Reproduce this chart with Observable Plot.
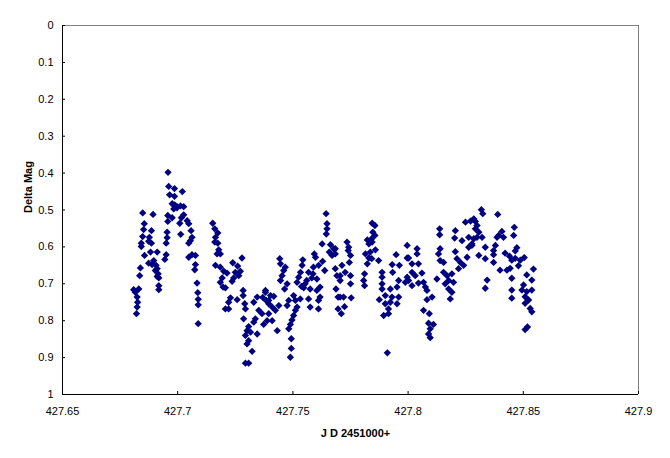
<!DOCTYPE html>
<html><head><meta charset="utf-8">
<script src="https://cdn.jsdelivr.net/npm/d3@7"></script>
<script src="https://cdn.jsdelivr.net/npm/@observablehq/plot@0.6"></script>
<style>
html,body{margin:0;padding:0;background:#fff;}
#chart svg{display:block;}
</style></head><body><div id="chart"></div>
<script>
// Julian date (JD 2451000+) of each observation
const jd = [
  // rise to first maximum
  427.6809, 427.6831, 427.6816, 427.6824, 427.6826, 427.6824, 427.6821, 427.6838, 427.6835, 427.6842,
  427.6842, 427.6848, 427.6848, 427.6852, 427.6855, 427.6856, 427.6874, 427.6874, 427.6877, 427.6882,
  427.6886, 427.6886, 427.6889, 427.6893, 427.6896, 427.6903, 427.6906, 427.6911, 427.6911, 427.6911,
  427.6915, 427.6918, 427.6918, 427.6918, 427.6944, 427.6950, 427.6950, 427.6954, 427.6954, 427.6957,
  427.6957, 427.6958, 427.6961, 427.6965, 427.6976, 427.6976, 427.6983, 427.6986, 427.6986, 427.6987,
  427.6997, 427.6997, 427.7009, 427.7012, 427.7013, 427.7016, 427.7020, 427.7026, 427.7026, 427.7041,
  427.7048, 427.7048, 427.7048, 427.7055, 427.7058, 427.7062, 427.7062, 427.7074, 427.7077, 427.7077,
  427.7084, 427.7087, 427.7089, 427.7089, 427.7089,
  // second hump
  427.7152, 427.7161, 427.7174, 427.7164, 427.7161, 427.7174, 427.7178, 427.7171, 427.7185, 427.7164,
  427.7185, 427.7200, 427.7214, 427.7193, 427.7185, 427.7197, 427.7207, 427.7239, 427.7260, 427.7279,
  427.7250, 427.7272, 427.7265, 427.7243, 427.7236, 427.7284, 427.7284, 427.7258, 427.7229, 427.7221,
  427.7207, 427.7221, 427.7291, 427.7294, 427.7286,
  // minimum
  427.7381, 427.7345, 427.7330, 427.7384, 427.7395, 427.7352, 427.7366, 427.7337, 427.7330, 427.7308,
  427.7301, 427.7316, 427.7345, 427.7294, 427.7308, 427.7301, 427.7373, 427.7323, 427.7308, 427.7294,
  427.7381, 427.7395, 427.7410, 427.7424, 427.7439, 427.7395, 427.7410, 427.7432, 427.7388, 427.7417,
  427.7369, 427.7403,
  // middle section
  427.7443, 427.7446, 427.7467, 427.7460, 427.7453, 427.7446, 427.7475, 427.7464, 427.7503, 427.7511,
  427.7482, 427.7475, 427.7518, 427.7511, 427.7503, 427.7496, 427.7489, 427.7482, 427.7493, 427.7493,
  427.7489, 427.7543, 427.7540, 427.7533, 427.7525, 427.7518, 427.7537, 427.7547, 427.7532, 427.7568,
  427.7575, 427.7611, 427.7618, 427.7611, 427.7593, 427.7598, 427.7629, 427.7612, 427.7638, 427.7589,
  427.7587, 427.7568, 427.7582, 427.7604, 427.7560, 427.7553, 427.7575, 427.7604, 427.7618, 427.7644,
  427.7648, 427.7648, 427.7645, 427.7627, 427.7663, 427.7677, 427.7670, 427.7658, 427.7684, 427.7691,
  427.7687, 427.7696, 427.7696,
  427.7684, 427.7684, 427.7713, 427.7705, 427.7727, 427.7750, 427.7705, 427.7750, 427.7705, 427.7720,
  427.7753, 427.7724, 427.7710, 427.7735, 427.7742, 427.7740, 427.7750, 427.7745, 427.7844, 427.7856,
  427.7847, 427.7856, 427.7842, 427.7823, 427.7830, 427.7844, 427.7858, 427.7836, 427.7815, 427.7830,
  427.7823, 427.7842, 427.7872, 427.7811, 427.7807, 427.7811,
  427.7996, 427.7948, 427.7996, 427.7931, 427.7962, 427.7933, 427.7887, 427.7887, 427.7887, 427.7887,
  427.7923, 427.7959, 427.7952, 427.7988, 427.7996, 427.7875, 427.7901, 427.7930, 427.7959, 427.7901,
  427.7923, 427.7952, 427.7915, 427.7894, 427.7915, 427.7910,
  // late section
  427.8249, 427.8271, 427.8285, 427.8137, 427.8137, 427.8205, 427.8202, 427.8234, 427.8263, 427.8277,
  427.8263, 427.8039, 427.8039, 427.8002, 427.8017, 427.8045, 427.8205, 427.8139, 427.8132, 427.8139,
  427.8154, 427.8212, 427.8227, 427.8241, 427.8219, 427.8256, 427.8017, 427.8031, 427.8060, 427.8002,
  427.8017, 427.8045, 427.8067, 427.8075, 427.8125, 427.8154, 427.8169, 427.8176, 427.8161, 427.8190,
  427.8197, 427.8176, 427.8190, 427.8183, 427.8082, 427.8104, 427.8082, 427.8067, 427.8092, 427.8089,
  427.8110, 427.8096, 427.8089, 427.8096,
  427.8318, 427.8324, 427.8389, 427.8292, 427.8299, 427.8292, 427.8307, 427.8299, 427.8285, 427.8321,
  427.8277, 427.8407, 427.8393, 427.8414, 427.8386, 427.8461, 427.8458, 427.8335, 427.8379, 427.8371,
  427.8371, 427.8307, 427.8335, 427.8371, 427.8472, 427.8465, 427.8421, 427.8440, 427.8450, 427.8465,
  427.8487, 427.8504, 427.8479, 427.8443, 427.8429, 427.8399, 427.8450, 427.8544, 427.8343, 427.8335,
  427.8450, 427.8450, 427.8515, 427.8537, 427.8501, 427.8494, 427.8515, 427.8537, 427.8508, 427.8523,
  427.8508, 427.8530, 427.8537, 427.8518, 427.8508
];

// Delta magnitude of each observation
const mag = [
  0.716, 0.714, 0.723, 0.736, 0.750, 0.763, 0.781, 0.657, 0.678, 0.590,
  0.599, 0.572, 0.508, 0.553, 0.537, 0.623, 0.585, 0.644, 0.574, 0.614,
  0.556, 0.590, 0.648, 0.512, 0.637, 0.664, 0.650, 0.614, 0.659, 0.680,
  0.673, 0.684, 0.705, 0.716, 0.634, 0.621, 0.590, 0.560, 0.575, 0.515,
  0.531, 0.398, 0.436, 0.459, 0.483, 0.521, 0.497, 0.442, 0.463, 0.486,
  0.491, 0.494, 0.536, 0.489, 0.566, 0.521, 0.450, 0.491, 0.513, 0.529,
  0.537, 0.590, 0.628, 0.583, 0.556, 0.574, 0.621, 0.662, 0.623, 0.648,
  0.698, 0.724, 0.742, 0.757, 0.808,
  0.536, 0.551, 0.562, 0.574, 0.587, 0.590, 0.608, 0.619, 0.619, 0.650,
  0.655, 0.666, 0.671, 0.684, 0.696, 0.709, 0.711, 0.643, 0.652, 0.630,
  0.669, 0.666, 0.678, 0.684, 0.693, 0.718, 0.732, 0.743, 0.738, 0.750,
  0.768, 0.768, 0.754, 0.768, 0.795,
  0.723, 0.736, 0.750, 0.745, 0.754, 0.772, 0.781, 0.795, 0.804, 0.816,
  0.827, 0.831, 0.836, 0.840, 0.854, 0.863, 0.810, 0.883, 0.915, 0.915,
  0.718, 0.745, 0.763, 0.772, 0.759, 0.781, 0.800, 0.827, 0.800, 0.734,
  0.737, 0.732,
  0.632, 0.646, 0.655, 0.664, 0.678, 0.691, 0.700, 0.714, 0.732, 0.745,
  0.745, 0.759, 0.763, 0.772, 0.786, 0.798, 0.810, 0.822, 0.849, 0.875,
  0.899, 0.635, 0.650, 0.669, 0.682, 0.696, 0.707, 0.711, 0.741, 0.741,
  0.763, 0.768, 0.736, 0.745, 0.619, 0.628, 0.639, 0.650, 0.664, 0.655,
  0.673, 0.669, 0.684, 0.687, 0.691, 0.700, 0.714, 0.718, 0.709, 0.510,
  0.537, 0.551, 0.565, 0.592, 0.594, 0.605, 0.623, 0.614, 0.659, 0.678,
  0.714, 0.736, 0.768,
  0.605, 0.619, 0.650, 0.678, 0.669, 0.678, 0.691, 0.700, 0.736, 0.736,
  0.738, 0.762, 0.781, 0.587, 0.601, 0.610, 0.623, 0.642, 0.536, 0.542,
  0.560, 0.569, 0.578, 0.581, 0.592, 0.587, 0.608, 0.614, 0.619, 0.630,
  0.646, 0.632, 0.637, 0.673, 0.691, 0.705,
  0.596, 0.621, 0.630, 0.648, 0.650, 0.669, 0.669, 0.682, 0.700, 0.714,
  0.714, 0.691, 0.709, 0.696, 0.682, 0.743, 0.732, 0.736, 0.736, 0.754,
  0.750, 0.754, 0.768, 0.786, 0.781, 0.887,
  0.533, 0.530, 0.524, 0.551, 0.567, 0.556, 0.576, 0.583, 0.574, 0.592,
  0.601, 0.605, 0.619, 0.630, 0.646, 0.646, 0.613, 0.605, 0.619, 0.637,
  0.642, 0.632, 0.642, 0.650, 0.659, 0.628, 0.669, 0.678, 0.671, 0.691,
  0.705, 0.698, 0.696, 0.709, 0.687, 0.669, 0.678, 0.691, 0.700, 0.673,
  0.696, 0.714, 0.723, 0.741, 0.718, 0.736, 0.743, 0.772, 0.781, 0.807,
  0.810, 0.822, 0.836, 0.846,
  0.499, 0.510, 0.512, 0.531, 0.542, 0.551, 0.560, 0.574, 0.578, 0.574,
  0.596, 0.558, 0.569, 0.574, 0.574, 0.547, 0.569, 0.601, 0.596, 0.610,
  0.621, 0.623, 0.632, 0.642, 0.602, 0.611, 0.617, 0.625, 0.636, 0.631,
  0.636, 0.629, 0.651, 0.658, 0.663, 0.663, 0.685, 0.660, 0.690, 0.712,
  0.717, 0.739, 0.676, 0.690, 0.703, 0.717, 0.721, 0.717, 0.735, 0.744,
  0.753, 0.767, 0.776, 0.817, 0.824
];

const xTicks = [427.65, 427.7, 427.75, 427.8, 427.85, 427.9];
const yTicks = [0, 0.1, 0.2, 0.3, 0.4, 0.5, 0.6, 0.7, 0.8, 0.9, 1];
const xTitle = "J D 2451000+";
const yTitle = "Delta Mag";

const n = Math.min(jd.length, mag.length);
const data = d3.range(n).map(i => ({jd: jd[i], mag: mag[i]}));

const chart = Plot.plot({
  width: 670,
  height: 458,
  marginLeft: 62,
  marginRight: 32,
  marginTop: 25,
  marginBottom: 64,
  style: {fontFamily: "'Liberation Sans', Arial, sans-serif", fontSize: "11px", background: "#fff", color: "#000"},
  x: {domain: [427.65, 427.9]},
  y: {domain: [0, 1], reverse: true},
  marks: [
    Plot.ruleY([0], {stroke: "#808080"}),
    Plot.ruleX([427.9], {stroke: "#808080"}),
    Plot.ruleX([427.65], {stroke: "#000"}),
    Plot.ruleY([1], {stroke: "#000"}),
    Plot.ruleX(xTicks, {x: d => d, y1: 1, y2: 1, insetTop: -3, stroke: "#000"}),
    Plot.ruleY(yTicks, {y: d => d, x1: 427.65, x2: 427.65, insetRight: -3, stroke: "#000"}),
    Plot.axisX({ticks: xTicks, tickSize: 0, tickPadding: 13, tickFormat: d => String(+d.toFixed(2)), label: null, fill: "#000"}),
    Plot.axisY({ticks: yTicks, tickSize: 0, tickPadding: 9, tickFormat: d => String(+d.toFixed(1)), label: null, fill: "#000"}),
    Plot.dot(data, {x: "jd", y: "mag", symbol: "diamond2", r: 3.3, fill: "#000080", stroke: "none"}),
    Plot.text([yTitle], {frameAnchor: "left", dx: -34, dy: 3, rotate: -90, fontWeight: "bold", fontSize: 11, fill: "#000"}),
    Plot.text([xTitle], {frameAnchor: "bottom", dx: 5, dy: 42, fontWeight: "bold", fontSize: 11, fill: "#000"})
  ]
});
document.getElementById("chart").append(chart);
</script>
</body></html>
